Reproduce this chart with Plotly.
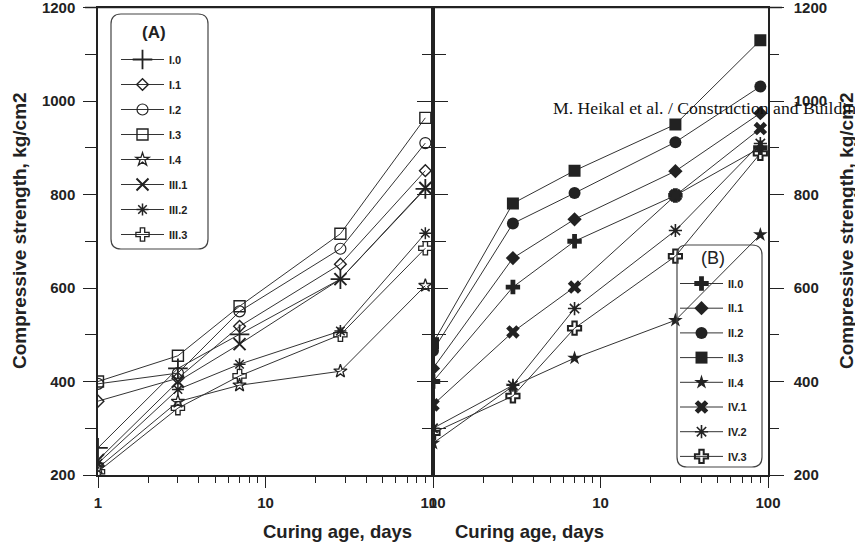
import plotly.graph_objects as go

# ---------------- data ----------------
days = [1, 3, 7, 28, 90]

# Panel (A)
I_0 = [258, 428, 501, 619, 812]
I_1 = [358, 407, 518, 651, 851]
I_2 = [395, 418, 550, 684, 910]
I_3 = [400, 455, 561, 716, 964]
I_4 = [215, 357, 392, 422, 605]
III_1 = [232, 400, 480, 619, 814]
III_2 = [225, 383, 437, 508, 717]
III_3 = [207, 343, 412, 500, 685]

# Panel (B)
II_0 = [400, 602, 700, 798, 900]
II_1 = [428, 664, 747, 850, 974]
II_2 = [466, 738, 803, 912, 1031]
II_3 = [482, 781, 851, 950, 1130]
II_4 = [268, 390, 450, 531, 714]
IV_1 = [350, 506, 602, 798, 941]
IV_2 = [300, 392, 556, 723, 909]
IV_3 = [290, 369, 514, 668, 888]

names_a = ["I.0", "I.1", "I.2", "I.3", "I.4", "III.1", "III.2", "III.3"]
series_a = [I_0, I_1, I_2, I_3, I_4, III_1, III_2, III_3]
names_b = ["II.0", "II.1", "II.2", "II.3", "II.4", "IV.1", "IV.2", "IV.3"]
series_b = [II_0, II_1, II_2, II_3, II_4, IV_1, IV_2, IV_3]

x_ticks = [1, 10, 100]
x_minor = [2, 3, 4, 5, 6, 7, 8, 9, 20, 30, 40, 50, 60, 70, 80, 90]

# ---------------- styles ----------------
W, H = 855, 544
INK = "#222222"
FONT = "Arial, Liberation Sans, sans-serif"

sym_a = [("cross-thin-open", 14, 1.8), ("diamond-open", 9, 1.4), ("circle-open", 11, 1.2),
         ("square-open", 11, 1.4), ("star-open", 10, 1.3), ("x-thin-open", 12, 2.0),
         ("asterisk-open", 10, 1.5), ("cross-open", 11, 1.3)]
sym_b = [("cross", 12, 0), ("diamond", 11, 0), ("circle", 12, 0),
         ("square", 12, 0), ("star", 11, 0), ("x", 12, 0),
         ("asterisk-open", 11, 1.6), ("cross-open", 11, 2.0)]

fig = go.Figure()

for i, (nm, ys) in enumerate(zip(names_a, series_a)):
    s, sz, lw = sym_a[i]
    fig.add_trace(go.Scatter(
        x=days, y=ys, name=nm, mode="lines+markers",
        xaxis="x", yaxis="y", legend="legend", legendgroup="a" + str(i),
        line=dict(color="#333333", width=1),
        marker=dict(symbol=s, size=sz, color=INK, line=dict(color=INK, width=lw)),
    ))

for i, (nm, ys) in enumerate(zip(names_b, series_b)):
    s, sz, lw = sym_b[i]
    fig.add_trace(go.Scatter(
        x=days, y=ys, name=nm, mode="lines+markers",
        xaxis="x2", yaxis="y2", legend="legend2", legendgroup="b" + str(i),
        line=dict(color="#333333", width=1),
        marker=dict(symbol=s, size=sz, color=INK, line=dict(color=INK, width=lw)),
    ))

ydom = [69 / H, 536.5 / H]
xdom1 = [98 / W, 433 / W]
xdom2 = [433 / W, 768 / W]

tickfont = dict(family=FONT, size=15, color=INK, weight="bold")

def xax(dom, anchor):
    return dict(type="log", range=[0, 2], domain=dom, anchor=anchor,
                tickvals=x_ticks, ticktext=[str(v) for v in x_ticks],
                ticks="outside", ticklen=11, tickwidth=1.3, tickcolor=INK,
                minor=dict(tickvals=x_minor, ticks="outside", ticklen=6,
                           tickwidth=1.3, tickcolor=INK),
                showline=True, linewidth=1.5, linecolor=INK, mirror=True,
                showgrid=False, zeroline=False, tickfont=tickfont,
                ticklabelstandoff=2, automargin=False,
                ticklabeloverflow="allow", fixedrange=True)

def yax(anchor, side, minorlen, majorlen, standoff):
    return dict(range=[200, 1200], domain=ydom, anchor=anchor, side=side,
                tickmode="linear", tick0=200, dtick=200,
                ticks="outside", ticklen=majorlen, tickwidth=1.3, tickcolor=INK,
                minor=dict(dtick=100, tick0=200, ticks="outside", ticklen=minorlen,
                           tickwidth=1.3, tickcolor=INK),
                showline=True, linewidth=1.5, linecolor=INK, mirror="allticks",
                showgrid=False, zeroline=False, tickfont=tickfont,
                ticklabelstandoff=standoff, automargin=False,
                ticklabeloverflow="allow", fixedrange=True)

def rounded_box(x0, y0, x1, y1, r):
    # pixel coords (top-left origin) -> paper coords
    def P(x, y):
        return f"{x / W:.5f},{1 - y / H:.5f}"
    return (f"M {P(x0 + r, y0)} L {P(x1 - r, y0)} Q {P(x1, y0)} {P(x1, y0 + r)} "
            f"L {P(x1, y1 - r)} Q {P(x1, y1)} {P(x1 - r, y1)} "
            f"L {P(x0 + r, y1)} Q {P(x0, y1)} {P(x0, y1 - r)} "
            f"L {P(x0, y0 + r)} Q {P(x0, y0)} {P(x0 + r, y0)} Z")

legfont = dict(family=FONT, size=11, color=INK, weight="bold")
ytitlefont = dict(family=FONT, size=19, color=INK, weight="bold")
xtitlefont = dict(family=FONT, size=18.5, color=INK, weight="bold")

fig.update_layout(
    template="none",
    width=W, height=H, margin=dict(l=0, r=0, t=0, b=0, pad=0, autoexpand=False),
    paper_bgcolor="white", plot_bgcolor="rgba(0,0,0,0)",
    showlegend=True,
    xaxis=xax(xdom1, "y"),
    yaxis=yax("x", "left", 11, 13, 5),
    xaxis2=xax(xdom2, "y2"),
    yaxis2=yax("x2", "right", 9, 14, 7),
    legend=dict(x=116 / W, y=1 - 45 / H, xanchor="left", yanchor="top",
                bgcolor="rgba(0,0,0,0)", borderwidth=0, font=legfont,
                tracegroupgap=6, itemwidth=43),
    legend2=dict(x=675 / W, y=1 - 269 / H, xanchor="left", yanchor="top",
                 bgcolor="rgba(0,0,0,0)", borderwidth=0, font=legfont,
                 tracegroupgap=5.7, itemwidth=43),
    shapes=[
        # top frame line joining both panels
        dict(type="line", xref="paper", yref="paper", x0=85 / W, x1=782 / W,
             y0=ydom[1], y1=ydom[1], line=dict(color=INK, width=1.6), layer="above"),
        dict(type="path", xref="paper", yref="paper", path=rounded_box(111, 14, 208, 249, 10),
             line=dict(color="#444444", width=1.2)),
        dict(type="path", xref="paper", yref="paper", path=rounded_box(677, 245, 762, 467, 10),
             line=dict(color="#444444", width=1.2)),
    ],
    annotations=[
        dict(text="(A)", xref="paper", yref="paper", x=154 / W, y=1 - 32 / H,
             showarrow=False, xanchor="center", yanchor="middle",
             font=dict(family=FONT, size=17, color=INK, weight="bold")),
        dict(text="(B)", xref="paper", yref="paper", x=713 / W, y=1 - 258 / H,
             showarrow=False, xanchor="center", yanchor="middle",
             font=dict(family=FONT, size=18, color=INK)),
        dict(text="Compressive strength, kg/cm2", xref="paper", yref="paper",
             x=20 / W, y=1 - 231 / H, textangle=-90, showarrow=False,
             xanchor="center", yanchor="middle", font=ytitlefont),
        dict(text="Compressive strength, kg/cm2", xref="paper", yref="paper",
             x=847 / W, y=1 - 231 / H, textangle=-90, showarrow=False,
             xanchor="center", yanchor="middle", font=ytitlefont),
        dict(text="Curing age, days", xref="paper", yref="paper",
             x=337 / W, y=1 - 531 / H, showarrow=False,
             xanchor="center", yanchor="middle", font=xtitlefont),
        dict(text="Curing age, days", xref="paper", yref="paper",
             x=529 / W, y=1 - 531 / H, showarrow=False,
             xanchor="center", yanchor="middle", font=xtitlefont),
        dict(text="M. Heikal et al. / Construction and Building Materials", xref="paper", yref="paper",
             x=551 / W, y=1 - 108 / H, showarrow=False,
             xanchor="left", yanchor="middle",
             font=dict(family="Liberation Serif, Times New Roman, serif", size=17.7, color="#111111")),
    ],
)

fig.write_html("out.html")
